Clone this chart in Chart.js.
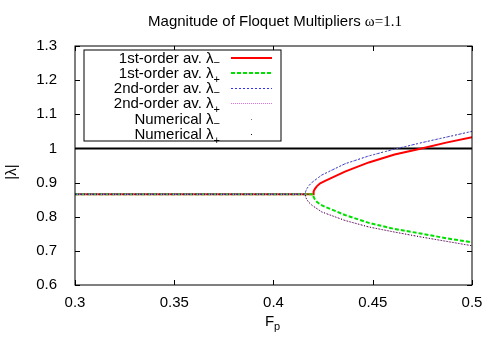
<!DOCTYPE html>
<html>
<head>
<meta charset="utf-8">
<script src="https://cdn.jsdelivr.net/npm/chart.js@4"></script>
<style>
  body { margin: 0; background: #fff; }
  canvas { display: block; }
</style>
</head>
<body>
<canvas id="chart" width="500" height="350"></canvas>
<script>
// 1st-order averaging (bifurcation near Fp = 0.42)
const fp1 = [0.30, 0.35, 0.40, 0.420, 0.4202, 0.4208, 0.4218, 0.4235, 0.426, 0.436, 0.448, 0.461, 0.474, 0.487, 0.500];
const lamMinus1 = [0.866, 0.866, 0.866, 0.866, 0.874, 0.881, 0.889, 0.898, 0.905, 0.932, 0.959, 0.982, 0.999, 1.017, 1.033];
const lamPlus1 = [0.866, 0.866, 0.866, 0.866, 0.858, 0.851, 0.844, 0.836, 0.829, 0.805, 0.782, 0.764, 0.751, 0.737, 0.725];

// 2nd-order averaging (bifurcation near Fp = 0.416)
const fp2 = [0.30, 0.35, 0.40, 0.416, 0.4162, 0.4168, 0.4178, 0.4195, 0.4243, 0.436, 0.448, 0.461, 0.474, 0.487, 0.500];
const lamMinus2 = [0.866, 0.866, 0.866, 0.866, 0.874, 0.882, 0.891, 0.901, 0.922, 0.955, 0.978, 0.998, 1.016, 1.033, 1.050];
const lamPlus2 = [0.866, 0.866, 0.866, 0.866, 0.858, 0.850, 0.842, 0.833, 0.814, 0.789, 0.770, 0.755, 0.741, 0.728, 0.715];

// numerical multipliers (sit on the 2nd-order curves)
const fpNum = [0.30, 0.35, 0.40, 0.416, 0.4162, 0.4168, 0.4178, 0.4195, 0.4243, 0.436, 0.448, 0.461, 0.474, 0.487, 0.500];
const numMinus = [0.866, 0.866, 0.866, 0.866, 0.874, 0.882, 0.891, 0.901, 0.922, 0.955, 0.978, 0.998, 1.016, 1.033, 1.050];
const numPlus = [0.866, 0.866, 0.866, 0.866, 0.858, 0.850, 0.842, 0.833, 0.814, 0.789, 0.770, 0.755, 0.741, 0.728, 0.715];

// |lambda| = 1 reference line
const fpUnit = [0.3, 0.5];
const unit = [1, 1];

const legendText = ['1st-order av. λ', '1st-order av. λ', '2nd-order av. λ', '2nd-order av. λ', 'Numerical λ', 'Numerical λ'];
const legendSub = ['−', '+', '−', '+', '−', '+'];

const SANS = '"Liberation Sans", Arial, sans-serif';
const SERIF = '"Liberation Serif", "Times New Roman", serif';

function pts(xs, ys) {
    return xs.map((x, i) => ({ x: x, y: ys[i] }));
}

const styles = [
    { color: '#ff0000', width: 2, dash: [] },
    { color: '#00e000', width: 2, dash: [4, 2] },
    { color: '#3030ff', width: 1, dash: [2, 2] },
    { color: '#e070e0', width: 1, dash: [1, 1] },
    { color: '#777777', width: 1, dash: [1, 2] },
    { color: '#111111', width: 1, dash: [1, 2] }
];

function series(data, i, order) {
    return {
        data: data,
        borderColor: styles[i].color,
        borderWidth: styles[i].width,
        borderDash: styles[i].dash,
        pointRadius: 0,
        fill: false,
        tension: 0,
        order: order
    };
}

const decorations = {
    id: 'decorations',
    afterDraw(chart) {
        const ctx = chart.ctx;
        const a = chart.chartArea;
        const xs = chart.scales.x;
        const ys = chart.scales.y;
        ctx.save();

        // frame with inward ticks on all four sides
        ctx.strokeStyle = '#000';
        ctx.lineWidth = 1;
        ctx.setLineDash([]);
        ctx.strokeRect(a.left, a.top, a.right - a.left, a.bottom - a.top);
        ctx.beginPath();
        for (let v = 0.3; v <= 0.5001; v += 0.05) {
            const px = Math.round(xs.getPixelForValue(v)) + 0.5;
            ctx.moveTo(px, a.bottom); ctx.lineTo(px, a.bottom - 5);
            ctx.moveTo(px, a.top); ctx.lineTo(px, a.top + 5);
        }
        for (let v = 0.6; v <= 1.3001; v += 0.1) {
            const py = Math.round(ys.getPixelForValue(v)) + 0.5;
            ctx.moveTo(a.left, py); ctx.lineTo(a.left + 5, py);
            ctx.moveTo(a.right, py); ctx.lineTo(a.right - 5, py);
        }
        ctx.stroke();

        // title
        ctx.fillStyle = '#000';
        ctx.textBaseline = 'alphabetic';
        const t1 = 'Magnitude of Floquet Multipliers ';
        const t2 = 'ω=1.1';
        ctx.font = '15px ' + SANS;
        const w1 = ctx.measureText(t1).width;
        ctx.font = '15px ' + SERIF;
        const w2 = ctx.measureText(t2).width;
        const tx = 275 - (w1 + w2) / 2;
        ctx.font = '15px ' + SANS;
        ctx.textAlign = 'left';
        ctx.fillText(t1, tx, 26);
        ctx.font = '15px ' + SERIF;
        ctx.fillText(t2, tx + w1, 26);

        // x axis label F_p
        ctx.font = '15px ' + SANS;
        ctx.fillText('F', 265, 326);
        ctx.font = '11px ' + SANS;
        ctx.fillText('p', 274, 330);

        // y axis label |λ|
        ctx.save();
        ctx.translate(16, 172);
        ctx.rotate(-Math.PI / 2);
        ctx.font = '15px ' + SANS;
        ctx.textAlign = 'center';
        ctx.fillText('|λ|', 0, 0);
        ctx.restore();

        // legend box
        ctx.fillStyle = '#fff';
        ctx.fillRect(84, 50, 197, 91);
        ctx.strokeStyle = '#000';
        ctx.lineWidth = 1;
        ctx.strokeRect(84, 50, 197, 91);
        for (let i = 0; i < legendText.length; i++) {
            const cy = 57.5 + i * 15.3;
            ctx.font = '15px ' + SANS;
            const wm = ctx.measureText(legendText[i]).width;
            ctx.font = '11px ' + SANS;
            const ws = ctx.measureText(legendSub[i]).width;
            const x0 = 220 - wm - ws;
            ctx.fillStyle = '#000';
            ctx.textAlign = 'left';
            ctx.font = '15px ' + SANS;
            ctx.fillText(legendText[i], x0, cy + 5);
            ctx.font = '11px ' + SANS;
            ctx.fillText(legendSub[i], x0 + wm, cy + (i % 2 === 0 ? 8 : 10));
            const st = styles[i];
            if (i < 4) {
                ctx.strokeStyle = st.color;
                ctx.lineWidth = st.width;
                ctx.setLineDash(st.dash);
                ctx.beginPath();
                ctx.moveTo(231, Math.round(cy) + (st.width === 1 ? 0.5 : 0));
                ctx.lineTo(272, Math.round(cy) + (st.width === 1 ? 0.5 : 0));
                ctx.stroke();
                ctx.setLineDash([]);
            } else {
                ctx.fillStyle = st.color;
                ctx.fillRect(251, Math.round(cy), 1, 1);
            }
        }
        ctx.restore();
    }
};

new Chart(document.getElementById('chart'), {
    type: 'line',
    data: {
        datasets: [
            { data: pts(fpUnit, unit), borderColor: '#000', borderWidth: 2, pointRadius: 0, fill: false, order: 10 },
            series(pts(fp1, lamMinus1), 0, 9),
            series(pts(fp1, lamPlus1), 1, 8),
            series(pts(fp2, lamMinus2), 2, 7),
            series(pts(fp2, lamPlus2), 3, 6),
            series(pts(fpNum, numMinus), 4, 5),
            series(pts(fpNum, numPlus), 5, 4)
        ]
    },
    options: {
        responsive: false,
        animation: false,
        layout: { padding: { top: 46, right: 28, left: 0, bottom: 0 } },
        plugins: {
            legend: { display: false },
            tooltip: { enabled: false },
            title: { display: false }
        },
        scales: {
            x: {
                type: 'linear',
                min: 0.3,
                max: 0.5,
                grid: { display: false },
                border: { display: false },
                ticks: {
                    stepSize: 0.05,
                    padding: 1,
                    maxRotation: 0,
                    color: '#000',
                    font: { family: SANS, size: 15 },
                    callback: v => String(parseFloat(v.toFixed(2)))
                },
                afterFit: s => { s.height = 65; }
            },
            y: {
                type: 'linear',
                min: 0.6,
                max: 1.3,
                grid: { display: false },
                border: { display: false },
                ticks: {
                    stepSize: 0.1,
                    padding: 10,
                    color: '#000',
                    font: { family: SANS, size: 15 },
                    callback: v => String(parseFloat(v.toFixed(2)))
                },
                afterFit: s => { s.width = 75; }
            }
        }
    },
    plugins: [decorations]
});
</script>
</body>
</html>
